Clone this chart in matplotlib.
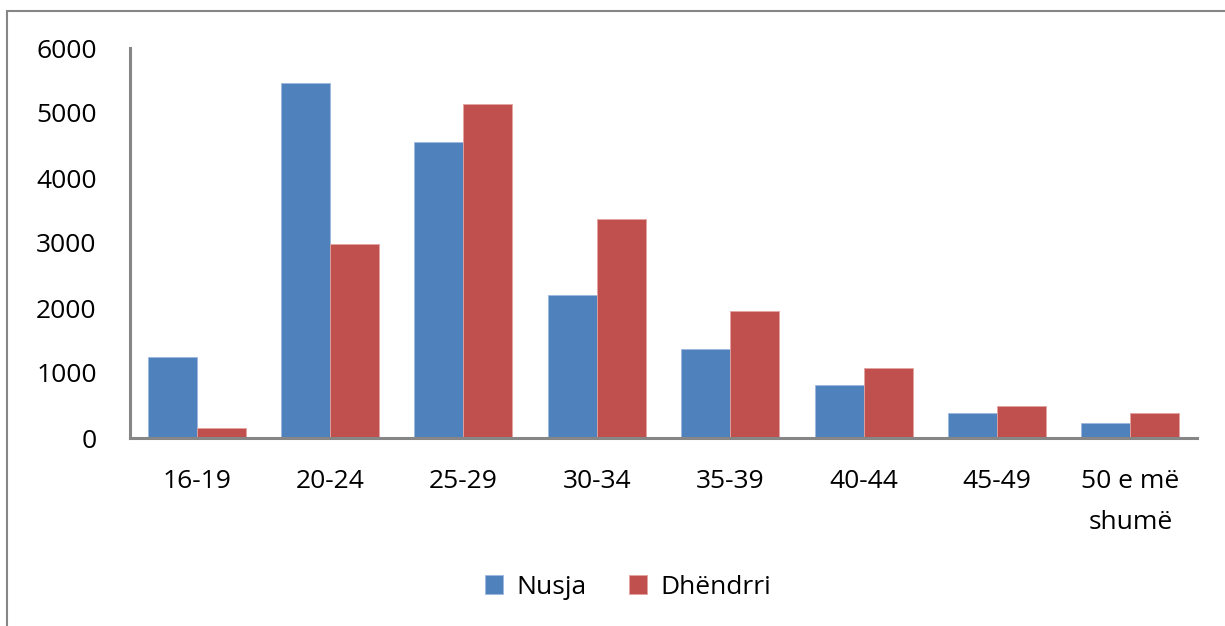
import numpy as np
import matplotlib.pyplot as plt
from matplotlib.patches import Rectangle

categories = ["16-19", "20-24", "25-29", "30-34", "35-39", "40-44", "45-49", "50 e më\nshumë"]
nusja = [1251, 5457, 4549, 2205, 1364, 815, 380, 231]
dhendrri = [159, 2980, 5134, 3369, 1949, 1072, 488, 380]

BLUE = "#4F81BD"
RED = "#C0504D"
AXIS_GREY = "#868686"
FONT_SIZE = 19

plt.rcParams["font.family"] = ["Open Sans", "DejaVu Sans"]

fig = plt.figure(figsize=(12.25, 6.26), dpi=100)
ax = fig.add_axes([130 / 1225, 1 - 438 / 626, (1197 - 130) / 1225, (438 - 48) / 626])

x = np.arange(len(categories))
w = 0.367
ax.bar(x - w / 2, nusja, w, color=BLUE, edgecolor="#9DB9DD", linewidth=0.6, label="Nusja")
ax.bar(x + w / 2, dhendrri, w, color=RED, edgecolor="#E3A3A1", linewidth=0.6, label="Dhëndrri")

ax.set_xlim(-0.5, len(categories) - 0.5)
ax.set_ylim(0, 6000)
ax.set_yticks(range(0, 6001, 1000))
ax.set_xticks(x)
ax.set_xticklabels(categories, linespacing=1.85)
ax.tick_params(axis="both", length=0, labelsize=FONT_SIZE, colors="black")
ax.tick_params(axis="y", pad=24)
ax.tick_params(axis="x", pad=22)

for side in ["top", "right"]:
    ax.spines[side].set_visible(False)
for side in ["left", "bottom"]:
    ax.spines[side].set_color(AXIS_GREY)
    ax.spines[side].set_linewidth(2.2)

ax.legend(loc="center", bbox_to_anchor=(628 / 1225, (626 - 587) / 626), bbox_transform=fig.transFigure,
          ncol=2, frameon=False, fontsize=FONT_SIZE, handlelength=0.7, handleheight=0.7,
          handletextpad=0.5, columnspacing=1.6)

# outer chart border (only top and left edges fall inside the image)
fig.patches.append(Rectangle((7 / 1225, -0.1), 1.2, 1 - 11 / 626 + 0.1, transform=fig.transFigure,
                             fill=False, edgecolor=AXIS_GREY, linewidth=1.5))

fig.savefig("out.png", dpi=100)
